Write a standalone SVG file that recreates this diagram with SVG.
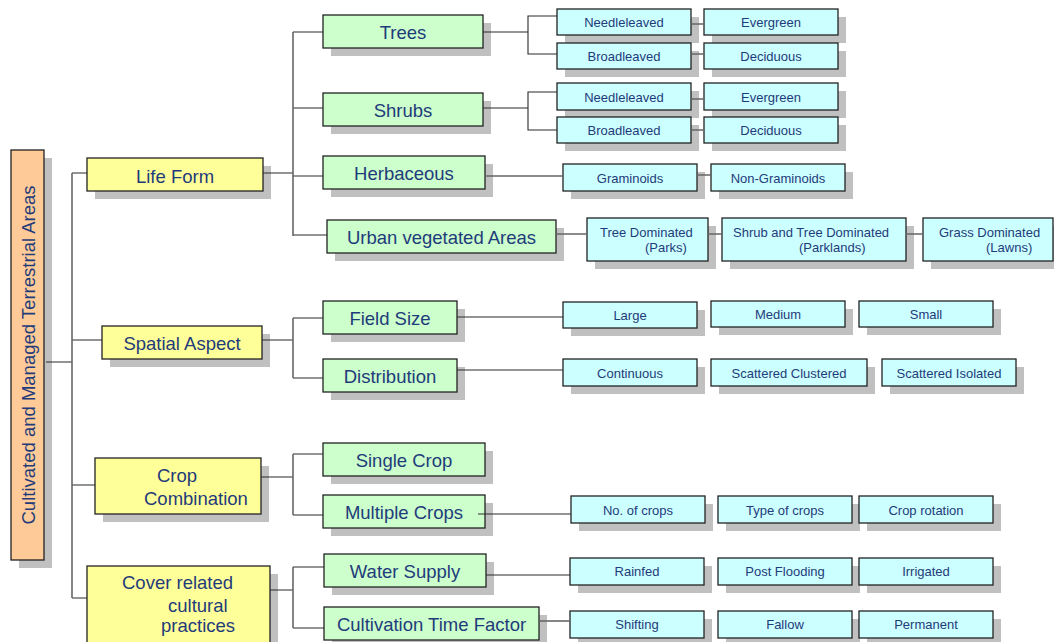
<svg xmlns="http://www.w3.org/2000/svg" width="1054" height="642" viewBox="0 0 1054 642">
<style>
.sh{fill:#c0c0c0}
.b{stroke:#222;stroke-width:1.3}
.y{fill:#ffff99}.g{fill:#ccffcc}.c{fill:#ccffff}.o{fill:#fdca98}
text{font-family:"Liberation Sans",Arial,sans-serif;fill:#1f3b7a}
.l{font-size:18.5px;text-anchor:middle}
.ls{font-size:18.5px}
.s{font-size:13px;text-anchor:middle}
.ss{font-size:13px}
.cn{fill:none;stroke:#2a2a2a;stroke-width:1.1}
.tr{fill:none;stroke:#666;stroke-width:1.6}
</style>
<rect width="1054" height="642" fill="#fff"/>

<g id="root"><rect class="sh" x="19" y="158" width="33" height="410"/><rect class="b o" x="11" y="150" width="33" height="410"/><text class="l" transform="translate(35,355) rotate(-90)">Cultivated and Managed Terrestrial Areas</text></g>

<g id="lifeform"><rect class="sh" x="95" y="166" width="176" height="33"/><rect class="b y" x="87" y="158" width="176" height="33"/><text class="l" x="175" y="182.5">Life Form</text></g>
<g id="spatial"><rect class="sh" x="110" y="334" width="160" height="33"/><rect class="b y" x="102" y="326" width="160" height="33"/><text class="l" x="182" y="350">Spatial Aspect</text></g>
<g id="crop"><rect class="sh" x="103" y="466" width="166" height="56"/><rect class="b y" x="95" y="458" width="166" height="56"/><text class="ls" x="157" y="482">Crop</text><text class="ls" x="144" y="505">Combination</text></g>
<g id="cover"><rect class="sh" x="95" y="574" width="183" height="80"/><rect class="b y" x="87" y="566" width="183" height="80"/><text class="ls" x="122" y="589">Cover related</text><text class="ls" x="168" y="611.5">cultural</text><text class="ls" x="161" y="632">practices</text></g>

<g id="trees"><rect class="sh" x="331" y="23" width="160" height="33"/><rect class="b g" x="323" y="15" width="160" height="33"/><text class="l" x="403" y="39">Trees</text></g>
<g id="shrubs"><rect class="sh" x="331" y="101" width="160" height="33"/><rect class="b g" x="323" y="93" width="160" height="33"/><text class="l" x="403" y="117">Shrubs</text></g>
<g id="herbaceous"><rect class="sh" x="331" y="164" width="162" height="33"/><rect class="b g" x="323" y="156" width="162" height="33"/><text class="l" x="404" y="180">Herbaceous</text></g>
<g id="urban"><rect class="sh" x="335" y="228" width="229" height="33"/><rect class="b g" x="327" y="220" width="229" height="33"/><text class="l" x="441.5" y="244">Urban vegetated Areas</text></g>
<g id="fieldsize"><rect class="sh" x="331" y="309" width="134" height="33"/><rect class="b g" x="323" y="301" width="134" height="33"/><text class="l" x="390" y="325">Field Size</text></g>
<g id="distribution"><rect class="sh" x="331" y="367" width="134" height="33"/><rect class="b g" x="323" y="359" width="134" height="33"/><text class="l" x="390" y="383">Distribution</text></g>
<g id="singlecrop"><rect class="sh" x="331" y="451" width="162" height="33"/><rect class="b g" x="323" y="443" width="162" height="33"/><text class="l" x="404" y="467">Single Crop</text></g>
<g id="multiplecrops"><rect class="sh" x="331" y="503" width="162" height="33"/><rect class="b g" x="323" y="495" width="162" height="33"/><text class="l" x="404" y="519">Multiple Crops</text></g>
<g id="watersupply"><rect class="sh" x="332" y="562" width="162" height="33"/><rect class="b g" x="324" y="554" width="162" height="33"/><text class="l" x="405" y="578">Water Supply</text></g>
<g id="cultivation"><rect class="sh" x="332" y="615" width="215" height="33"/><rect class="b g" x="324" y="607" width="215" height="33"/><text class="l" x="431.5" y="631">Cultivation Time Factor</text></g>

<g id="needle1"><rect class="sh" x="565" y="17" width="134" height="26"/><rect class="b c" x="557" y="9" width="134" height="26"/><text class="s" x="624" y="27.3">Needleleaved</text></g>
<g id="broad1"><rect class="sh" x="565" y="51" width="134" height="26"/><rect class="b c" x="557" y="43" width="134" height="26"/><text class="s" x="624" y="61.3">Broadleaved</text></g>
<g id="ever1"><rect class="sh" x="712" y="17" width="134" height="26"/><rect class="b c" x="704" y="9" width="134" height="26"/><text class="s" x="771" y="27.3">Evergreen</text></g>
<g id="decid1"><rect class="sh" x="712" y="51" width="134" height="26"/><rect class="b c" x="704" y="43" width="134" height="26"/><text class="s" x="771" y="61.3">Deciduous</text></g>
<g id="needle2"><rect class="sh" x="565" y="91" width="134" height="27"/><rect class="b c" x="557" y="83" width="134" height="27"/><text class="s" x="624" y="101.5">Needleleaved</text></g>
<g id="broad2"><rect class="sh" x="565" y="125" width="134" height="26"/><rect class="b c" x="557" y="117" width="134" height="26"/><text class="s" x="624" y="135.3">Broadleaved</text></g>
<g id="ever2"><rect class="sh" x="712" y="91" width="134" height="27"/><rect class="b c" x="704" y="83" width="134" height="27"/><text class="s" x="771" y="101.5">Evergreen</text></g>
<g id="decid2"><rect class="sh" x="712" y="125" width="134" height="26"/><rect class="b c" x="704" y="117" width="134" height="26"/><text class="s" x="771" y="135.3">Deciduous</text></g>
<g id="graminoids"><rect class="sh" x="571" y="172" width="134" height="27"/><rect class="b c" x="563" y="164" width="134" height="27"/><text class="s" x="630" y="182.5">Graminoids</text></g>
<g id="nongraminoids"><rect class="sh" x="719" y="172" width="134" height="27"/><rect class="b c" x="711" y="164" width="134" height="27"/><text class="s" x="778" y="182.5">Non-Graminoids</text></g>
<g id="treedom"><rect class="sh" x="595" y="226" width="121" height="43"/><rect class="b c" x="587" y="218" width="121" height="43"/><text class="ss" x="600" y="237">Tree Dominated</text><text class="ss" x="645" y="252">(Parks)</text></g>
<g id="shrubtree"><rect class="sh" x="730" y="226" width="184" height="43"/><rect class="b c" x="722" y="218" width="184" height="43"/><text class="ss" x="733" y="237">Shrub and Tree Dominated</text><text class="ss" x="799" y="252">(Parklands)</text></g>
<g id="grass"><rect class="sh" x="931" y="226" width="131" height="43"/><rect class="b c" x="923" y="218" width="130" height="43"/><text class="ss" x="939" y="237">Grass Dominated</text><text class="ss" x="986" y="252">(Lawns)</text></g>
<g id="large"><rect class="sh" x="571" y="310" width="134" height="26"/><rect class="b c" x="563" y="302" width="134" height="26"/><text class="s" x="630" y="320.3">Large</text></g>
<g id="medium"><rect class="sh" x="719" y="309" width="134" height="26"/><rect class="b c" x="711" y="301" width="134" height="26"/><text class="s" x="778" y="319">Medium</text></g>
<g id="small"><rect class="sh" x="867" y="309" width="134" height="26"/><rect class="b c" x="859" y="301" width="134" height="26"/><text class="s" x="926" y="319">Small</text></g>
<g id="continuous"><rect class="sh" x="571" y="367" width="134" height="27"/><rect class="b c" x="563" y="359" width="134" height="27"/><text class="s" x="630" y="377.5">Continuous</text></g>
<g id="scatclust"><rect class="sh" x="719" y="367" width="156" height="27"/><rect class="b c" x="711" y="359" width="156" height="27"/><text class="s" x="789" y="377.5">Scattered Clustered</text></g>
<g id="scatiso"><rect class="sh" x="890" y="367" width="134" height="27"/><rect class="b c" x="882" y="359" width="134" height="27"/><text class="s" x="949" y="377.5">Scattered Isolated</text></g>
<g id="nocrops"><rect class="sh" x="579" y="504" width="134" height="27"/><rect class="b c" x="571" y="496" width="134" height="27"/><text class="s" x="638" y="514.5">No. of crops</text></g>
<g id="typecrops"><rect class="sh" x="726" y="504" width="134" height="27"/><rect class="b c" x="718" y="496" width="134" height="27"/><text class="s" x="785" y="514.5">Type of crops</text></g>
<g id="croprot"><rect class="sh" x="867" y="504" width="134" height="27"/><rect class="b c" x="859" y="496" width="134" height="27"/><text class="s" x="926" y="514.5">Crop rotation</text></g>
<g id="rainfed"><rect class="sh" x="578" y="566" width="134" height="27"/><rect class="b c" x="570" y="558" width="134" height="27"/><text class="s" x="637" y="576">Rainfed</text></g>
<g id="postflood"><rect class="sh" x="726" y="566" width="134" height="27"/><rect class="b c" x="718" y="558" width="134" height="27"/><text class="s" x="785" y="576">Post Flooding</text></g>
<g id="irrigated"><rect class="sh" x="867" y="566" width="134" height="27"/><rect class="b c" x="859" y="558" width="134" height="27"/><text class="s" x="926" y="576">Irrigated</text></g>
<g id="shifting"><rect class="sh" x="578" y="619" width="134" height="27"/><rect class="b c" x="570" y="611" width="134" height="27"/><text class="s" x="637" y="629">Shifting</text></g>
<g id="fallow"><rect class="sh" x="726" y="619" width="134" height="27"/><rect class="b c" x="718" y="611" width="134" height="27"/><text class="s" x="785" y="629">Fallow</text></g>
<g id="permanent"><rect class="sh" x="867" y="619" width="134" height="27"/><rect class="b c" x="859" y="611" width="134" height="27"/><text class="s" x="926" y="629">Permanent</text></g>

<g id="connectors">
<path class="cn" d="M46,362H72M72,173H87M72,340H102M72,485H95M72,598H87"/>
<path class="tr" d="M72,173V598"/>
<path class="cn" d="M263,173H293M293,32H323M293,108H323M293,176H323M293,235H327"/>
<path class="tr" d="M293,32V236"/>
<path class="cn" d="M262,340H293M293,318H323M293,378H323"/>
<path class="tr" d="M293,318V378"/>
<path class="cn" d="M261,477H293M293,454H323M293,515H323"/>
<path class="tr" d="M293,454V515"/>
<path class="cn" d="M270,590H293M293,567H324M293,628H324"/>
<path class="tr" d="M293,567V628"/>
<path class="cn" d="M483,32H528V16H557M528,32V54H557"/>
<path class="cn" d="M483,108H528V92H557M528,108V130H557"/>
<path class="tr" d="M691,24H704M691,54H704M691,99H704M691,130H704"/>
<path class="tr" d="M485,176H563M697,175H711"/>
<path class="tr" d="M556,234H587M708,234H722M906,234H923"/>
<path class="cn" d="M457,317H563M457,370H563"/>
<path class="cn" d="M478,514H571M486,575H570"/>
<path class="tr" d="M539,621H570"/>
</g>
</svg>
